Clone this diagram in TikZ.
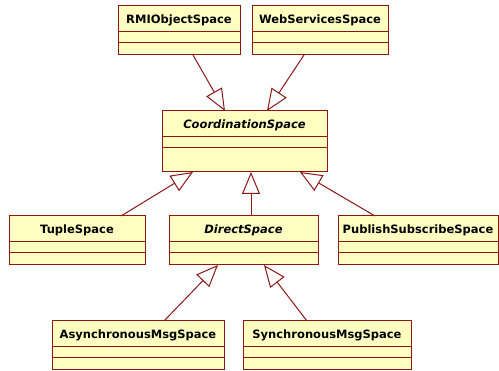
\documentclass[tikz,border=0pt]{standalone}
\usepackage{fontspec}
\setmainfont{DejaVu Sans}
\usetikzlibrary{positioning}
\usetikzlibrary{arrows.meta}

\definecolor{umlborder}{RGB}{140,22,22}
\definecolor{umlfill}{RGB}{255,255,194}

\tikzset{
  classname/.style={rectangle, draw=umlborder, fill=umlfill, line width=1pt, inner sep=0pt, outer sep=0pt,
    minimum height=26pt, anchor=north west, text height=8.5pt, text depth=0pt,
    font=\fontsize{11.5}{13}\selectfont\bfseries},
  compartment/.style={rectangle, draw=umlborder, fill=umlfill, line width=1pt, inner sep=0pt, outer sep=0pt,
    minimum height=11pt},
  inherits/.style={draw=umlborder, line width=1pt, -{Triangle[open, length=22pt, width=18pt]}}
}

\begin{document}
\begin{tikzpicture}[x=1pt, y=-1pt]

    \useasboundingbox (0,0) rectangle (499,371);

    % Nodes
    \node[classname, minimum width=122pt] (rmi) at (118,6) {RMIObjectSpace};
    \node[compartment, minimum width=122pt, below=0pt of rmi] (rmi-attr) {};
    \node[compartment, minimum width=122pt, minimum height=12pt, below=0pt of rmi-attr] (rmi-op) {};

    \node[classname, minimum width=136pt] (web) at (252,6) {WebServicesSpace};
    \node[compartment, minimum width=136pt, below=0pt of web] (web-attr) {};
    \node[compartment, minimum width=136pt, minimum height=12pt, below=0pt of web-attr] (web-op) {};

    \node[classname, minimum width=165pt, font=\fontsize{11.5}{13}\selectfont\bfseries\itshape] (coord) at (162,111) {CoordinationSpace};
    \node[compartment, minimum width=165pt, below=0pt of coord] (coord-attr) {};
    \node[compartment, minimum width=165pt, minimum height=24pt, below=0pt of coord-attr] (coord-op) {};

    \node[classname, minimum width=136pt] (tuple) at (9,216) {TupleSpace};
    \node[compartment, minimum width=136pt, below=0pt of tuple] (tuple-attr) {};
    \node[compartment, minimum width=136pt, minimum height=12pt, below=0pt of tuple-attr] (tuple-op) {};

    \node[classname, minimum width=149pt, font=\fontsize{11.5}{13}\selectfont\bfseries\itshape] (direct) at (169,216) {DirectSpace};
    \node[compartment, minimum width=149pt, below=0pt of direct] (direct-attr) {};
    \node[compartment, minimum width=149pt, minimum height=12pt, below=0pt of direct-attr] (direct-op) {};

    \node[classname, minimum width=160pt] (pubsub) at (338,216) {PublishSubscribeSpace};
    \node[compartment, minimum width=160pt, below=0pt of pubsub] (pubsub-attr) {};
    \node[compartment, minimum width=160pt, minimum height=12pt, below=0pt of pubsub-attr] (pubsub-op) {};

    \node[classname, minimum width=172pt] (async) at (52,321) {AsynchronousMsgSpace};
    \node[compartment, minimum width=172pt, below=0pt of async] (async-attr) {};
    \node[compartment, minimum width=172pt, minimum height=12pt, below=0pt of async-attr] (async-op) {};

    \node[classname, minimum width=168pt] (sync) at (243,321) {SynchronousMsgSpace};
    \node[compartment, minimum width=168pt, below=0pt of sync] (sync-attr) {};
    \node[compartment, minimum width=168pt, minimum height=12pt, below=0pt of sync-attr] (sync-op) {};

    % Generalizations
    \draw[inherits] ([xshift=75pt]rmi-op.south west) -- ([xshift=63pt]coord.north west);
    \draw[inherits] ([xshift=52pt]web-op.south west) -- ([xshift=105pt]coord.north west);
    \draw[inherits] ([xshift=112pt]tuple.north west) -- ([xshift=31pt]coord-op.south west);
    \draw[inherits] ([xshift=82pt]direct.north west) -- ([xshift=89pt]coord-op.south west);
    \draw[inherits] ([xshift=37pt]pubsub.north west) -- ([xshift=138pt]coord-op.south west);
    \draw[inherits] ([xshift=112pt]async.north west) -- ([xshift=49pt]direct-op.south west);
    \draw[inherits] ([xshift=64pt]sync.north west) -- ([xshift=95pt]direct-op.south west);

  \end{tikzpicture}
\end{document}
